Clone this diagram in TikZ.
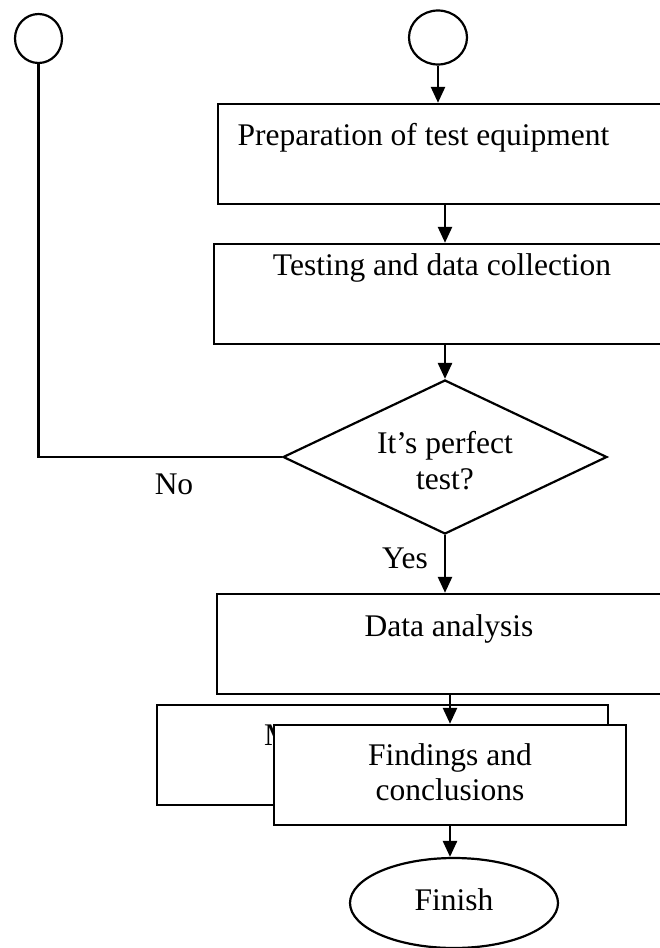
\documentclass[tikz,border=0pt]{standalone}
\usepackage{fontspec}
\setmainfont{Liberation Serif}
\usetikzlibrary{shapes.geometric,arrows.meta}
\begin{document}
\begin{tikzpicture}[x=1pt,y=-1pt,
  every node/.style={font=\fontsize{31.5}{36}\selectfont},
  box/.style={draw, line width=2.4pt, fill=white, rectangle, inner sep=0pt, minimum height=100},
  term/.style={draw, line width=2.2pt, ellipse, inner sep=0pt},
  decide/.style={draw, line width=2.2pt, diamond, inner sep=0pt},
  lbl/.style={anchor=base, inner sep=0pt},
  flow/.style={line width=2.6pt, -{Triangle[length=16pt,width=14pt]}},
  link/.style={line width=2.2pt}]
\useasboundingbox (0,0) rectangle (660,948);
\clip (0,0) rectangle (660,948);
\fill[white] (0,0) rectangle (660,948);

% connector circles
\node[term, minimum width=47, minimum height=49] (loop) at (38.5,38.5) {};
\node[term, minimum width=58, minimum height=54] (start) at (438,37.5) {};

% process boxes (they run past the right edge)
\node[box, minimum width=472] (prep) at (454,154) {};
\node[lbl] (preptxt) at (423.5,145) {Preparation of test equipment};
\node[box, minimum width=476] (test) at (452,294) {};
\node[lbl] (testtxt) at (442,275) {Testing and data collection};

% decision
\node[decide, minimum width=324, minimum height=154] (dec) at (445,457) {};
\node[lbl] (dectxt1) at (445,453) {It’s perfect};
\node[lbl] (dectxt2) at (445,489) {test?};
\node[lbl] (no) at (174,494) {No};
\node[lbl] (yes) at (405,568) {Yes};

% analysis
\node[box, minimum width=473] (anal) at (453.5,644) {};
\node[lbl] (analtxt) at (449,636) {Data analysis};

% stacked boxes
\node[box, minimum width=451] (back) at (382.5,755) {};
\node[lbl, anchor=base west] (backtxt) at (264,745) {M};
\node[box, minimum width=352] (find) at (450,775) {};
\node[lbl] (findtxt1) at (450,765) {Findings and};
\node[lbl] (findtxt2) at (450,800) {conclusions};

% terminator
\node[term, minimum width=208, minimum height=90] (fin) at (454,903) {};
\node[lbl] (fintxt) at (454,910) {Finish};

% connectors
\draw[flow] (start.south) -- (start.south |- prep.north);
\draw[flow] (prep.south -| dec.north) -- (test.north -| dec.north);
\draw[flow] (test.south -| dec.north) -- (dec.north);
\draw[flow] (dec.south) -- (dec.south |- anal.north);
\draw[flow] (find.north |- anal.south) -- (find.north);
\draw[flow] (find.south) -- (find.south |- fin.north);
\draw[link] (dec.west) -- (dec.west -| loop.south) -- (loop.south);
\end{tikzpicture}
\end{document}
